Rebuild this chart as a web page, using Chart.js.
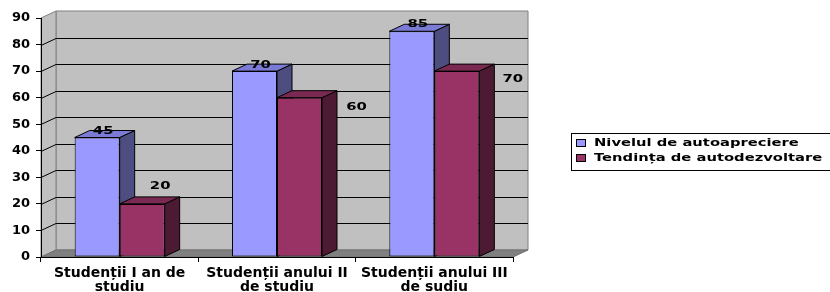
<!DOCTYPE html>
<html>
<head>
<meta charset="utf-8">
<script src="https://cdn.jsdelivr.net/npm/chart.js@4"></script>
<style>
  html, body { margin: 0; padding: 0; background: #fff; }
  canvas { display: block; }
</style>
</head>
<body>
<canvas id="myChart" width="830" height="292"></canvas>
<script>
// Data
const categories = [
    ['Studenții I an de', 'studiu'],
    ['Studenții anului II', 'de studiu'],
    ['Studenții anului III', 'de sudiu'],
];
const seriesNames = ['Nivelul de autoapreciere', 'Tendința de autodezvoltare'];
const nivelAutoapreciere = [45, 70, 85];
const tendintaAutodezvoltare = [20, 60, 70];
const yMax = 90;
const yStep = 10;

// front / top / side colours for each series
const faceColors = [
    { front: '#9999ff', top: '#7b7bd6', side: '#4d4d80' },
    { front: '#993366', top: '#7a2952', side: '#4d1a33' },
];

const DX = 15, DY = 7; // fake 3d depth
const FONT = '"DejaVu Sans", Verdana, sans-serif';

function poly(ctx, pts, fill, stroke) {
    ctx.beginPath();
    ctx.moveTo(pts[0][0], pts[0][1]);
    for (let i = 1; i < pts.length; i++) ctx.lineTo(pts[i][0], pts[i][1]);
    ctx.closePath();
    if (fill) { ctx.fillStyle = fill; ctx.fill(); }
    if (stroke) { ctx.strokeStyle = stroke; ctx.lineWidth = 1; ctx.stroke(); }
}

// draws walls, floor, bar depth faces, value labels and the legend box
const pseudo3d = {
    id: 'pseudo3d',
    beforeDraw(chart) {
        const { ctx, chartArea: a, scales: { y } } = chart;
        ctx.save();
        // back wall
        poly(ctx, [[a.left + DX, a.top - DY], [a.right + DX, a.top - DY],
                   [a.right + DX, a.bottom - DY], [a.left + DX, a.bottom - DY]], '#c0c0c0', '#808080');
        // side wall
        poly(ctx, [[a.left, a.bottom], [a.left, a.top], [a.left + DX, a.top - DY],
                   [a.left + DX, a.bottom - DY]], '#c0c0c0', '#808080');
        // floor
        poly(ctx, [[a.left, a.bottom], [a.right, a.bottom], [a.right + DX, a.bottom - DY],
                   [a.left + DX, a.bottom - DY]], '#808080', '#707070');
        // grid lines on the wall
        ctx.strokeStyle = '#000';
        ctx.lineWidth = 1;
        y.ticks.forEach(t => {
            if (t.value <= 0 || t.value >= yMax) return;
            const py = Math.round(y.getPixelForValue(t.value)) + 0.5;
            ctx.beginPath();
            ctx.moveTo(a.left, py);
            ctx.lineTo(a.left + DX, py - DY);
            ctx.lineTo(a.right + DX, py - DY);
            ctx.stroke();
        });
        ctx.restore();
    },
    beforeDatasetsDraw(chart) {
        const ctx = chart.ctx;
        ctx.save();
        chart.data.datasets.forEach((ds, di) => {
            const c = faceColors[di];
            chart.getDatasetMeta(di).data.forEach(bar => {
                const { x, y, base, width } = bar.getProps(['x', 'y', 'base', 'width'], true);
                const l = x - width / 2, r = x + width / 2;
                poly(ctx, [[r, y], [r + DX, y - DY], [r + DX, base - DY], [r, base]], c.side, '#000');
                poly(ctx, [[l, y], [r, y], [r + DX, y - DY], [l + DX, y - DY]], c.top, '#000');
            });
        });
        ctx.restore();
    },
    afterDatasetsDraw(chart, args, opts) {
        const ctx = chart.ctx;
        ctx.save();
        ctx.fillStyle = '#000';
        ctx.font = 'bold 11px ' + FONT;
        ctx.textAlign = 'center';
        ctx.textBaseline = 'middle';
        chart.data.datasets.forEach((ds, di) => {
            chart.getDatasetMeta(di).data.forEach((bar, i) => {
                const off = opts.labelOffsets[di][i];
                ctx.save();
                ctx.translate(bar.x + off[0], bar.y + off[1]);
                ctx.scale(1.35, 1);
                ctx.fillText(String(ds.data[i]), 0, 0);
                ctx.restore();
            });
        });
        ctx.restore();
    },
    afterDraw(chart, args, opts) {
        const ctx = chart.ctx;
        const L = opts.legend;
        ctx.save();
        ctx.fillStyle = '#fff';
        ctx.fillRect(L.x, L.y, L.w, L.h);
        ctx.strokeStyle = '#000';
        ctx.lineWidth = 1;
        ctx.strokeRect(L.x + 0.5, L.y + 0.5, L.w, L.h);
        ctx.font = 'bold 11px ' + FONT;
        ctx.textBaseline = 'middle';
        chart.data.datasets.forEach((ds, di) => {
            const cy = L.y + 10 + di * L.row;
            ctx.fillStyle = ds.backgroundColor;
            ctx.fillRect(L.x + 5.5, cy - 3.5, 9, 7);
            ctx.strokeRect(L.x + 5.5, cy - 3.5, 9, 7);
            ctx.fillStyle = '#000';
            ctx.save();
            ctx.translate(L.x + 23, cy);
            ctx.scale(1.34, 1);
            ctx.fillText(ds.label, 0, 0);
            ctx.restore();
        });
        ctx.restore();
    },
};

const data = {
    labels: categories,
    datasets: [
        { label: seriesNames[0], data: nivelAutoapreciere, backgroundColor: faceColors[0].front },
        { label: seriesNames[1], data: tendintaAutodezvoltare, backgroundColor: faceColors[1].front },
    ].map(d => Object.assign(d, { borderColor: '#000', borderWidth: 1, borderSkipped: false })),
};

const options = {
    responsive: false,
    animation: false,
    layout: { padding: { top: 18, right: 317, left: 0, bottom: 0 } },
    datasets: { bar: { barPercentage: 1, categoryPercentage: 0.572 } },
    plugins: {
        legend: { display: false },
        tooltip: { enabled: false },
        pseudo3d: {
            labelOffsets: [
                [[6, -6], [6, -6], [6, -7]],
                [[18, -18], [57, 9], [56, 8]],
            ],
            legend: { x: 571, y: 133, w: 270, h: 37, row: 15 },
        },
    },
    scales: {
        x: {
            grid: { drawOnChartArea: false, tickLength: 5, color: '#000', offset: true },
            border: { color: '#000' },
            ticks: {
                color: '#000', padding: 4, maxRotation: 0, autoSkip: false,
                font: { family: FONT, size: 14, weight: 'bold', lineHeight: 1.0 },
            },
            afterFit(s) { s.height = 35; },
        },
        y: {
            min: 0, max: yMax,
            grid: { drawOnChartArea: false, tickLength: 5, color: '#000' },
            border: { color: '#000' },
            ticks: {
                stepSize: yStep, color: '#000', padding: 6,
                font: { family: FONT, size: 13, weight: 'bold' },
            },
            afterFit(s) { s.width = 41; },
        },
    },
};

const ctx = document.getElementById('myChart').getContext('2d');
const myChart = new Chart(ctx, {
    type: 'bar',
    data: data,
    options: options,
    plugins: [pseudo3d],
});
</script>
</body>
</html>
